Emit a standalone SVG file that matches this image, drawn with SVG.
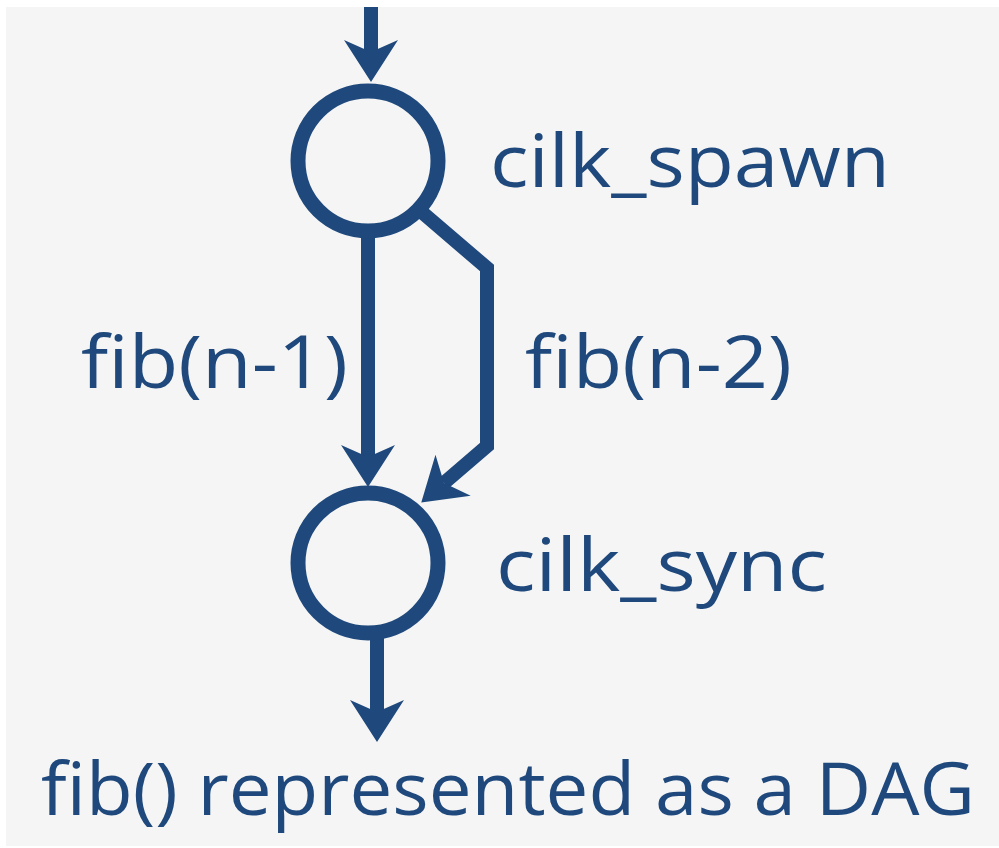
<svg xmlns="http://www.w3.org/2000/svg" width="999" height="848" viewBox="0 0 999 848">
  <style>
    .edge { fill: none; stroke: #1f497c; stroke-width: 14; stroke-linejoin: miter; }
    .node { fill: none; stroke: #1f497c; stroke-width: 15; }
    .label { font-family: "Open Sans", "Liberation Sans", sans-serif; font-size: 74px; fill: #1f497c; }
  </style>
  <defs>
    <marker id="arrow" markerUnits="userSpaceOnUse" markerWidth="44" markerHeight="60"
            viewBox="0 -30 44 60" refX="12" refY="0" orient="auto" overflow="visible">
      <path d="M0,-27 L42,0 L0,27 L12,0 Z" fill="#1f497c"/>
    </marker>
  </defs>

  <!-- canvas -->
  <rect x="0" y="0" width="999" height="848" fill="#ffffff"/>
  <rect x="6" y="7" width="993" height="839" fill="#f5f5f5"/>

  <!-- connectors -->
  <g id="connectors">
    <path id="edge-in" class="edge" d="M371,7 V52" marker-end="url(#arrow)"/>
    <path id="edge-fib1" class="edge" d="M368,230 V457" marker-end="url(#arrow)"/>
    <path id="edge-fib2" class="edge" d="M417,208 L487,268 V446 L444,483" marker-end="url(#arrow)"/>
    <path id="edge-out" class="edge" d="M377,634 V712" marker-end="url(#arrow)"/>
  </g>

  <!-- spawn node -->
  <g id="node-spawn">
    <circle class="node" cx="368" cy="161" r="70"/>
    <text class="label" x="490" y="187" textLength="400" lengthAdjust="spacingAndGlyphs">cilk_spawn</text>
  </g>

  <!-- sync node -->
  <g id="node-sync">
    <circle class="node" cx="368" cy="563" r="70"/>
    <text class="label" x="496" y="591" textLength="331" lengthAdjust="spacingAndGlyphs">cilk_sync</text>
  </g>

  <!-- edge labels -->
  <g id="labels">
    <text class="label" x="81" y="388" textLength="267" lengthAdjust="spacingAndGlyphs">fib(n-1)</text>
    <text class="label" x="525" y="388" textLength="267" lengthAdjust="spacingAndGlyphs">fib(n-2)</text>
    <text class="label" x="41" y="815" textLength="934" lengthAdjust="spacingAndGlyphs">fib() represented as a DAG</text>
  </g>
</svg>
